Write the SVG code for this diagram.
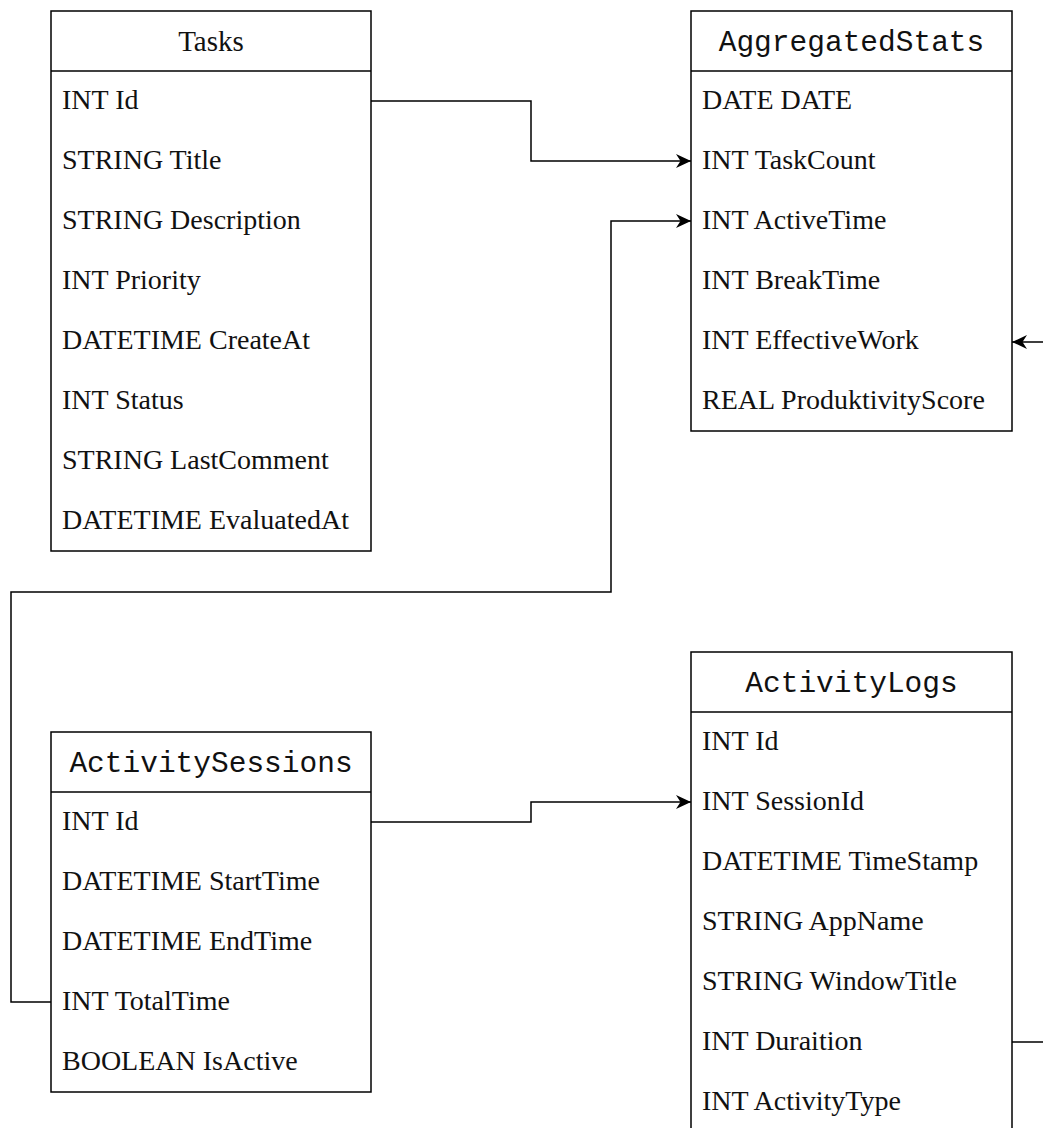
<svg xmlns="http://www.w3.org/2000/svg" width="1043" height="1128" viewBox="0 0 1043 1128">
  <style>
    .box { fill: #ffffff; stroke: #000000; stroke-width: 1.5; }
    .sep { stroke: #000000; stroke-width: 1.5; }
    .title-mono { font-family: "Liberation Mono", "DejaVu Sans Mono", monospace; font-size: 29.5px; fill: #111111; text-anchor: middle; }
    .title-serif { font-family: "Liberation Serif", "Times New Roman", serif; font-size: 29px; fill: #111111; text-anchor: middle; }
    .field { font-family: "Liberation Serif", "Times New Roman", serif; font-size: 28px; fill: #111111; }
    .edge { fill: none; stroke: #000000; stroke-width: 1.5; }
  </style>
  <defs>
    <marker id="arrow" markerUnits="userSpaceOnUse" markerWidth="17" markerHeight="16" refX="15" refY="7.5" orient="auto">
      <path d="M0,0.5 L15,7.5 L0,14.5 L4.5,7.5 Z" fill="#000000"/>
    </marker>
  </defs>

  <rect width="1043" height="1128" fill="#ffffff"/>

  <!-- Tasks -->
  <g id="tasks">
    <rect class="box" x="51" y="11" width="320" height="540"/>
    <line class="sep" x1="51" y1="71" x2="371" y2="71"/>
    <text class="title-serif" x="211" y="51">Tasks</text>
    <text class="field" x="62" y="109">INT Id</text>
    <text class="field" x="62" y="169">STRING Title</text>
    <text class="field" x="62" y="229">STRING Description</text>
    <text class="field" x="62" y="289">INT Priority</text>
    <text class="field" x="62" y="349">DATETIME CreateAt</text>
    <text class="field" x="62" y="409">INT Status</text>
    <text class="field" x="62" y="469">STRING LastComment</text>
    <text class="field" x="62" y="529">DATETIME EvaluatedAt</text>
  </g>

  <!-- AggregatedStats -->
  <g id="aggregated-stats">
    <rect class="box" x="691" y="11" width="321" height="420"/>
    <line class="sep" x1="691" y1="71" x2="1012" y2="71"/>
    <text class="title-mono" x="851.5" y="51">AggregatedStats</text>
    <text class="field" x="702" y="109">DATE DATE</text>
    <text class="field" x="702" y="169">INT TaskCount</text>
    <text class="field" x="702" y="229">INT ActiveTime</text>
    <text class="field" x="702" y="289">INT BreakTime</text>
    <text class="field" x="702" y="349">INT EffectiveWork</text>
    <text class="field" x="702" y="409">REAL ProduktivityScore</text>
  </g>

  <!-- ActivitySessions -->
  <g id="activity-sessions">
    <rect class="box" x="51" y="732" width="320" height="360"/>
    <line class="sep" x1="51" y1="792" x2="371" y2="792"/>
    <text class="title-mono" x="211" y="772">ActivitySessions</text>
    <text class="field" x="62" y="830">INT Id</text>
    <text class="field" x="62" y="890">DATETIME StartTime</text>
    <text class="field" x="62" y="950">DATETIME EndTime</text>
    <text class="field" x="62" y="1010">INT TotalTime</text>
    <text class="field" x="62" y="1070">BOOLEAN IsActive</text>
  </g>

  <!-- ActivityLogs -->
  <g id="activity-logs">
    <rect class="box" x="691" y="652" width="321" height="480"/>
    <line class="sep" x1="691" y1="712" x2="1012" y2="712"/>
    <text class="title-mono" x="851.5" y="692">ActivityLogs</text>
    <text class="field" x="702" y="750">INT Id</text>
    <text class="field" x="702" y="810">INT SessionId</text>
    <text class="field" x="702" y="870">DATETIME TimeStamp</text>
    <text class="field" x="702" y="930">STRING AppName</text>
    <text class="field" x="702" y="990">STRING WindowTitle</text>
    <text class="field" x="702" y="1050">INT Duraition</text>
    <text class="field" x="702" y="1110">INT ActivityType</text>
  </g>

  <!-- Relations -->
  <g id="connectors">
    <path class="edge" d="M371,101 H531 V161 H691" marker-end="url(#arrow)"/>
    <path class="edge" d="M51,1002 H11 V592 H611 V221 H691" marker-end="url(#arrow)"/>
    <path class="edge" d="M371,822 H531 V802 H691" marker-end="url(#arrow)"/>
    <path class="edge" d="M1012,1042 H1063 V342 H1012" marker-end="url(#arrow)"/>
  </g>
</svg>
